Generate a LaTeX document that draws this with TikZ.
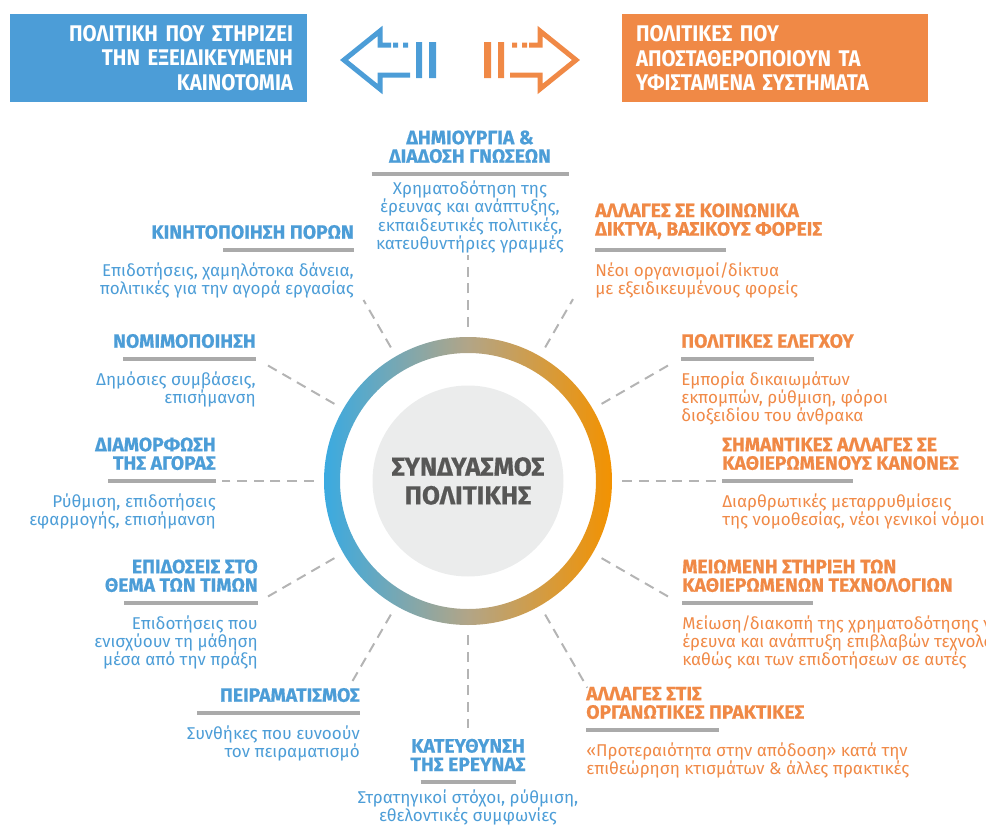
\documentclass[tikz,border=0pt]{standalone}
\usepackage{fontspec}
\setmainfont{Fira Sans}
\newfontfamily\titlefont{Fira Sans}[FakeBold=0.6]
\newfontfamily\boxfont{Fira Sans}[FakeStretch=0.9]
\usetikzlibrary{positioning}
\definecolor{polblue}{RGB}{76,157,215}
\definecolor{polorange}{RGB}{240,137,70}
\definecolor{ringblue}{RGB}{58,170,225}
\definecolor{ringorange}{RGB}{243,146,0}
\definecolor{ringmid}{RGB}{178,165,135}
\definecolor{rulegray}{RGB}{170,170,170}
\definecolor{dashgray}{RGB}{180,180,180}
\definecolor{coregray}{RGB}{235,236,236}
\definecolor{coretext}{RGB}{87,87,86}
\tikzset{headline/.style = {inner sep=0pt, font=\titlefont\bfseries\fontsize{14.5}{13.9}\selectfont}}
\tikzset{blurb/.style = {inner sep=0pt, font=\fontsize{12.8}{13.7}\selectfont}}
\tikzset{underline/.style = {rulegray, line width=2.4pt}}
\tikzset{spoke/.style = {dashgray, line width=1.5pt, dash pattern=on 7.5pt off 5pt}}
\tikzset{banner/.style = {text=white, inner xsep=10.5pt, minimum height=66pt,
                          font=\boxfont\bfseries\fontsize{17}{18.4}\selectfont}}

\begin{document}
\begin{tikzpicture}[x=0.75pt, y=-0.75pt]
    \useasboundingbox (0,0) rectangle (986,828);
    \clip (0,0) rectangle (986,828);

    \node [banner, fill=polblue, text width=201.75pt, align=right] (support) at (158.5,58)
      {ΠΟΛΙΤΙΚΗ ΠΟΥ ΣΤΗΡΙΖΕΙ\\ΤΗΝ ΕΞΕΙΔΙΚΕΥΜΕΝΗ\\ΚΑΙΝΟΤΟΜΙΑ};
    \node [banner, fill=polorange, text width=208.5pt, align=left] (destab) at (775,58)
      {ΠΟΛΙΤΙΚΕΣ ΠΟΥ\\ΑΠΟΣΤΑΘΕΡΟΠΟΙΟΥΝ ΤΑ\\ΥΦΙΣΤΑΜΕΝΑ ΣΥΣΤΗΜΑΤΑ};

    \foreach \col/\dir in {polblue/1, polorange/-1} {
      \begin{scope}[shift={(460,0)}, xscale=\dir]
        \draw [\col, line width=3.75pt] (-69,45) -- (-80,45) -- (-80,31) -- (-116,60)
          -- (-80,89) -- (-80,75) -- (-50,75);
        \fill [\col] (-67,42.5) rectangle (-62,47.5) (-57,42.5) rectangle (-52,47.5)
          (-44,42) rectangle (-38,78) (-31,42) rectangle (-24,78);
      \end{scope}
    }

    \shade [left color=ringblue, right color=ringorange, middle color=ringmid, even odd rule]
      (468,481) circle [radius=108pt] (468,481) circle [radius=96pt];
    \node [circle, minimum size=231pt, inner sep=0pt] (hub) at (468,481) {};
    \node [circle, fill=coregray, minimum size=143.25pt, inner sep=0pt, text=coretext, align=center,
           font=\titlefont\bfseries\fontsize{19.5}{21.5}\selectfont] (core) at (468,481) {ΣΥΝΔΥΑΣΜΟΣ\\ΠΟΛΙΤΙΚΗΣ};

    \foreach \a/\r in {0/186.75, 30/177, 60/157.5, 90/169.5, 120/156.75, 150/176,
                       180/184.5, 210/175.5, 240/174.75, 270/185, 300/179, 330/176} {
      \coordinate (end\a) at ([shift={(\a:\r pt)}]hub.center);
      \draw [spoke] (hub.\a) -- (end\a);
    }

    \coordinate (mobil) at (354,250);
    \draw [underline] (mobil) -- ++(-131,0);
    \node [headline, text=polblue, align=right, above left=8pt and 0pt of mobil] (mobilT) {ΚΙΝΗΤΟΠΟΙΗΣΗ ΠΟΡΩΝ};
    \node [blurb, text=polblue, align=right, below left=9pt and 0pt of mobil] (mobilD)
      {Επιδοτήσεις, χαμηλότοκα δάνεια,\\πολιτικές για την αγορά εργασίας};

    \coordinate (legit) at (256,359);
    \draw [underline] (legit) -- ++(-133,0);
    \node [headline, text=polblue, align=right, above left=8pt and 0pt of legit] (legitT) {ΝΟΜΙΜΟΠΟΙΗΣΗ};
    \node [blurb, text=polblue, align=right, below left=9pt and 0pt of legit] (legitD)
      {Δημόσιες συμβάσεις,\\επισήμανση};

    \coordinate (market) at (216,481);
    \draw [underline] (market) -- ++(-108,0);
    \node [headline, text=polblue, align=right, above left=8pt and 0pt of market] (marketT) {ΔΙΑΜΟΡΦΩΣΗ\\ΤΗΣ ΑΓΟΡΑΣ};
    \node [blurb, text=polblue, align=right, below left=9pt and 0pt of market] (marketD)
      {Ρύθμιση, επιδοτήσεις\\εφαρμογής, επισήμανση};

    \coordinate (price) at (258,603);
    \draw [underline] (price) -- ++(-134,0);
    \node [headline, text=polblue, align=right, above left=8pt and 0pt of price] (priceT) {ΕΠΙΔΟΣΕΙΣ ΣΤΟ\\ΘΕΜΑ ΤΩΝ ΤΙΜΩΝ};
    \node [blurb, text=polblue, align=right, below left=9pt and 0pt of price] (priceD)
      {Επιδοτήσεις που\\ενισχύουν τη μάθηση\\μέσα από την πράξη};

    \coordinate (exper) at (360,713);
    \draw [underline] (exper) -- ++(-163,0);
    \node [headline, text=polblue, align=right, above left=8pt and 0pt of exper] (experT) {ΠΕΙΡΑΜΑΤΙΣΜΟΣ};
    \node [blurb, text=polblue, align=right, below left=9pt and 0pt of exper] (experD)
      {Συνθήκες που ευνοούν\\τον πειραματισμό};

    \coordinate (know) at (470,174);
    \draw [underline] (know) ++(-98.5,0) -- ++(197,0);
    \node [headline, text=polblue, align=center, above=8pt of know] (knowT) {ΔΗΜΙΟΥΡΓΙΑ \&\\ΔΙΑΔΟΣΗ ΓΝΩΣΕΩΝ};
    \node [blurb, text=polblue, align=center, below=5pt of know] (knowD)
      {Χρηματοδότηση της\\έρευνας και ανάπτυξης,\\εκπαιδευτικές πολιτικές,\\κατευθυντήριες γραμμές};

    \coordinate (direct) at (468,782);
    \draw [underline] (direct) ++(-47.5,0) -- ++(95,0);
    \node [headline, text=polblue, align=center, above=8pt of direct] (directT) {ΚΑΤΕΥΘΥΝΣΗ\\ΤΗΣ ΕΡΕΥΝΑΣ};
    \node [blurb, text=polblue, align=center, below=5.5pt of direct] (directD)
      {Στρατηγικοί στόχοι, ρύθμιση,\\εθελοντικές συμφωνίες};

    \coordinate (netw) at (595,250);
    \draw [underline] (netw) -- ++(131,0);
    \node [headline, text=polorange, align=left, above right=8pt and 0pt of netw] (netwT) {ΑΛΛΑΓΕΣ ΣΕ ΚΟΙΝΩΝΙΚΑ\\ΔΙΚΤΥΑ, ΒΑΣΙΚΟΥΣ ΦΟΡΕΙΣ};
    \node [blurb, text=polorange, align=left, below right=9pt and 0pt of netw] (netwD)
      {Νέοι οργανισμοί/δίκτυα\\με εξειδικευμένους φορείς};

    \coordinate (control) at (681,359);
    \draw [underline] (control) -- ++(133,0);
    \node [headline, text=polorange, align=left, above right=8pt and 0pt of control] (controlT) {ΠΟΛΙΤΙΚΕΣ ΕΛΕΓΧΟΥ};
    \node [blurb, text=polorange, align=left, below right=9pt and 0pt of control] (controlD)
      {Εμπορία δικαιωμάτων\\εκπομπών, ρύθμιση, φόροι\\διοξειδίου του άνθρακα};

    \coordinate (rules) at (722,481);
    \draw [underline] (rules) -- ++(131,0);
    \node [headline, text=polorange, align=left, above right=8pt and 0pt of rules] (rulesT) {ΣΗΜΑΝΤΙΚΕΣ ΑΛΛΑΓΕΣ ΣΕ\\ΚΑΘΙΕΡΩΜΕΝΟΥΣ ΚΑΝΟΝΕΣ};
    \node [blurb, text=polorange, align=left, below right=9pt and 0pt of rules] (rulesD)
      {Διαρθρωτικές μεταρρυθμίσεις\\της νομοθεσίας, νέοι γενικοί νόμοι};

    \coordinate (phase) at (682,603);
    \draw [underline] (phase) -- ++(131,0);
    \node [headline, text=polorange, align=left, above right=8pt and 0pt of phase] (phaseT) {ΜΕΙΩΜΕΝΗ ΣΤΗΡΙΞΗ ΤΩΝ\\ΚΑΘΙΕΡΩΜΕΝΩΝ ΤΕΧΝΟΛΟΓΙΩΝ};
    \node [blurb, text=polorange, align=left, below right=9pt and 0pt of phase] (phaseD)
      {Μείωση/διακοπή της χρηματοδότησης για\\έρευνα και ανάπτυξη επιβλαβών τεχνολογιών\\καθώς και των επιδοτήσεων σε αυτές};

    \coordinate (practice) at (586,730);
    \draw [underline] (practice) -- ++(133,0);
    \node [headline, text=polorange, align=left, above right=8pt and 0pt of practice] (practiceT) {ΑΛΛΑΓΕΣ ΣΤΙΣ\\ΟΡΓΑΝΩΤΙΚΕΣ ΠΡΑΚΤΙΚΕΣ};
    \node [blurb, text=polorange, align=left, below right=9pt and 0pt of practice] (practiceD)
      {«Προτεραιότητα στην απόδοση» κατά την\\επιθεώρηση κτισμάτων \& άλλες πρακτικές};
\end{tikzpicture}
\end{document}
